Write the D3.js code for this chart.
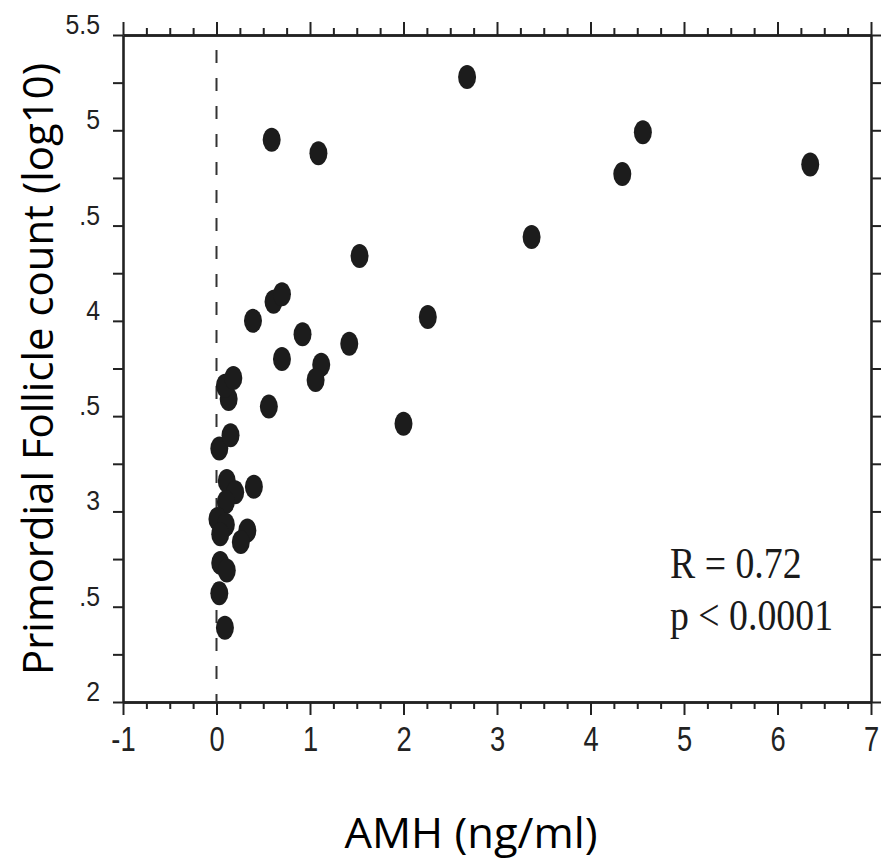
<!DOCTYPE html>
<html>
<head>
<meta charset="utf-8">
<script src="https://cdnjs.cloudflare.com/ajax/libs/d3/7.8.5/d3.min.js"></script>
<style>
  body { margin: 0; background: #fff; }
  .tick-label { font-family: "Liberation Sans", Arial, sans-serif; fill: #222; }
  .axis-title { font-family: "Open Sans", "Noto Sans", sans-serif; fill: #000; }
  .stats { font-family: "Liberation Serif", "Times New Roman", serif; fill: #1a1a1a; }
</style>
</head>
<body>
<div id="chart"></div>
<script>
// AMH (ng/ml) per case
let amh = [
  0.11, 0.20, 0.40, 0.10, 0.01, 0.10, 0.04, 0.33, 0.26, 0.04,
  0.11, 0.03, 0.09, 0.03, 0.15, 0.56, 0.13, 0.09, 0.18, 0.70,
  1.12, 1.06, 1.42, 0.92, 0.39, 2.26, 0.61, 0.70, 1.53, 2.00,
  3.37, 0.59, 1.09, 2.68, 4.56, 4.34, 6.35
];
// primordial follicle count, log10
let follicles = [
  3.16, 3.10, 3.13, 3.05, 2.96, 2.93, 2.88, 2.90, 2.84, 2.73,
  2.69, 2.57, 2.39, 3.33, 3.40, 3.55, 3.59, 3.66, 3.70, 3.80,
  3.77, 3.69, 3.88, 3.93, 4.00, 4.02, 4.10, 4.14, 4.34, 3.46,
  4.44, 4.95, 4.88, 5.28, 4.99, 4.77, 4.82
];

let xTickValues = [-1, 0, 1, 2, 3, 4, 5, 6, 7];
let xTickLabels = ["-1", "0", "1", "2", "3", "4", "5", "6", "7"];
let yTickValues = [2, 2.5, 3, 3.5, 4, 4.5, 5, 5.5];
let yTickLabels = ["2", ".5", "3", ".5", "4", ".5", "5", "5.5"];
let statLines = ["R = 0.72", "p < 0.0001"];

let width = 885;
let height = 860;
let plotLeft = 123, plotRight = 871, plotTop = 35, plotBottom = 702;

let svg = d3.select("#chart").append("svg")
  .attr("width", width)
  .attr("height", height);

let x = d3.scaleLinear().domain([-1, 7]).range([plotLeft, plotRight]);
let y = d3.scaleLinear().domain([2, 5.5]).range([plotBottom, plotTop]);

// quarter steps between the labelled ticks
let xMinor = d3.range(-1, 7, 0.25).filter((d) => d % 1 !== 0);
let yAll = d3.range(2, 5.51, 0.25);

let styleAxis = (g) => {
  g.select(".domain").attr("stroke", "#222").attr("stroke-width", 2.6);
  g.selectAll(".tick line").attr("stroke", "#222").attr("stroke-width", 2);
};

// bottom
svg.append("g")
  .attr("transform", `translate(0,${plotBottom})`)
  .call(d3.axisBottom(x).tickValues(xMinor).tickSize(7).tickSizeOuter(0).tickFormat(""))
  .call(styleAxis);
let xAxis = svg.append("g")
  .attr("transform", `translate(0,${plotBottom})`)
  .call(d3.axisBottom(x).tickValues(xTickValues).tickSize(13).tickSizeOuter(0)
    .tickFormat((d, i) => xTickLabels[i]))
  .call(styleAxis);
// narrow face: squeeze the labels sideways
xAxis.selectAll("text")
  .attr("class", "tick-label")
  .attr("y", 0)
  .attr("dy", 0)
  .attr("font-size", 35)
  .attr("transform", "translate(0,49) scale(0.78,1)");

// top
svg.append("g")
  .attr("transform", `translate(0,${plotTop})`)
  .call(d3.axisTop(x).tickValues(xMinor).tickSize(7).tickSizeOuter(0).tickFormat(""))
  .call(styleAxis);
svg.append("g")
  .attr("transform", `translate(0,${plotTop})`)
  .call(d3.axisTop(x).tickValues(xTickValues).tickSize(13).tickSizeOuter(0).tickFormat(""))
  .call(styleAxis);

// left
svg.append("g")
  .attr("transform", `translate(${plotLeft},0)`)
  .call(d3.axisLeft(y).tickValues(yAll).tickSize(10).tickSizeOuter(0).tickFormat(""))
  .call(styleAxis);

// right
svg.append("g")
  .attr("transform", `translate(${plotRight},0)`)
  .call(d3.axisRight(y).tickValues(yAll).tickSize(10).tickSizeOuter(0).tickFormat(""))
  .call(styleAxis);

// y labels sit on their ticks, not centred
svg.selectAll("text.y-label")
  .data(yTickValues)
  .enter()
  .append("text")
  .attr("class", "tick-label y-label")
  .attr("transform", (d) => `translate(100,${y(d) - 1}) scale(0.92,1)`)
  .attr("text-anchor", "end")
  .attr("font-size", 27)
  .text((d, i) => yTickLabels[i]);

// dashed line at AMH = 0
svg.append("line")
  .attr("x1", x(0)).attr("x2", x(0))
  .attr("y1", 50).attr("y2", plotBottom)
  .attr("stroke", "#333")
  .attr("stroke-width", 2)
  .attr("stroke-dasharray", "13,15");

svg.selectAll("ellipse.dot")
  .data(amh)
  .enter()
  .append("ellipse")
  .classed("dot", true)
  .attr("cx", (d) => x(d))
  .attr("cy", (d, i) => y(follicles[i]))
  .attr("rx", 9)
  .attr("ry", 12)
  .attr("fill", "#1c1c1c");

// stats text
svg.selectAll("text.stats")
  .data(statLines)
  .enter()
  .append("text")
  .attr("class", "stats")
  .attr("font-size", 45)
  .attr("transform", (d, i) => `translate(670, ${578 + i * 52}) scale(0.84,1)`)
  .text((d) => d);

// axis titles
svg.append("text")
  .attr("class", "axis-title")
  .attr("x", 471)
  .attr("y", 848)
  .attr("text-anchor", "middle")
  .attr("font-size", 42)
  .attr("textLength", 253)
  .attr("lengthAdjust", "spacingAndGlyphs")
  .text("AMH (ng/ml)");

svg.append("text")
  .attr("class", "axis-title")
  .attr("transform", "translate(53, 369) rotate(-90)")
  .attr("text-anchor", "middle")
  .attr("font-size", 42)
  .attr("textLength", 612)
  .attr("lengthAdjust", "spacingAndGlyphs")
  .text("Primordial Follicle count (log10)");
</script>
</body>
</html>
